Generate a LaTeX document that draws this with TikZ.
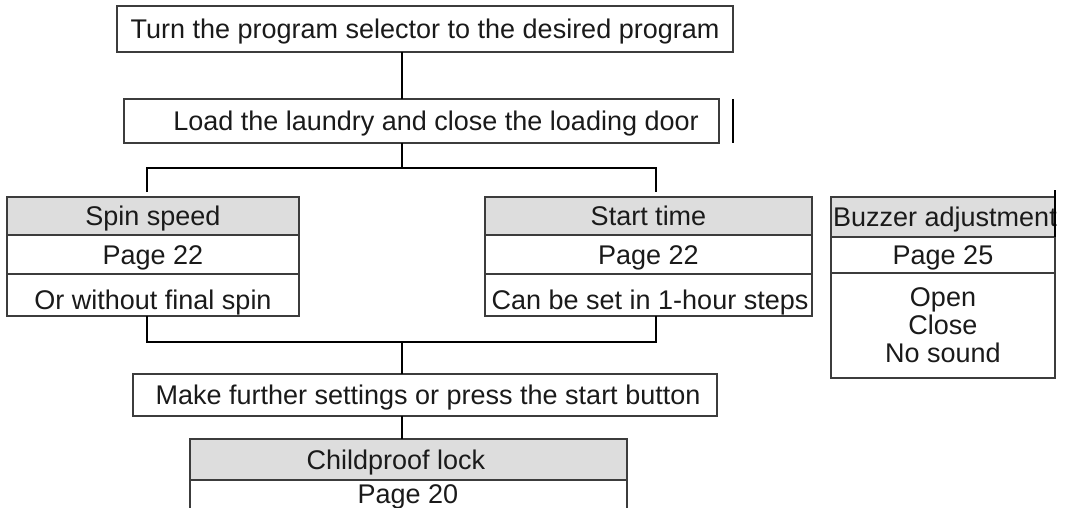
\documentclass[tikz,border=0pt]{standalone}
\usepackage{fontspec}
\setmainfont{Liberation Sans}
\definecolor{hdr}{RGB}{221,221,221}
\definecolor{txt}{RGB}{26,26,26}
\definecolor{brd}{RGB}{60,60,60}
\begin{document}
\begin{tikzpicture}[x=1pt,y=-1pt,
  cell/.style={draw=brd, line width=1.1pt, inner sep=0pt, outer sep=0pt},
  head/.style={cell, fill=hdr},
  lbl/.style={font=\fontsize{27}{30}\selectfont, text=txt, inner sep=0pt, anchor=base},
  conn/.style={line width=2pt, draw=black}]
\useasboundingbox (0,0) rectangle (1068,508);
\clip (0,0) rectangle (1068,508);
% top boxes
\node[cell, minimum width=616pt, minimum height=46pt] (b1) at (425,29) {};
\node[lbl] (t1) at (425,38.5) {Turn the program selector to the desired program};
\node[cell, minimum width=595pt, minimum height=44pt] (b2) at (421.5,121) {};
\node[lbl] (t2) at (436,131) {Load the laundry and close the loading door};
% spin speed
\node[head, minimum width=292pt, minimum height=38pt] (spinH) at (153,216) {};
\node[cell, minimum width=292pt, minimum height=39pt] (spinP) at (153,254.5) {};
\node[cell, minimum width=292pt, minimum height=42pt] (spinN) at (153,295) {};
\node[lbl] (ts1) at (153,225.5) {Spin speed};
\node[lbl] (ts2) at (153,264) {Page 22};
\node[lbl] (ts3) at (153,309) {Or without final spin};
% start time
\node[head, minimum width=327pt, minimum height=38pt] (stH) at (648.5,216) {};
\node[cell, minimum width=327pt, minimum height=39pt] (stP) at (648.5,254.5) {};
\node[cell, minimum width=327pt, minimum height=42pt] (stN) at (648.5,295) {};
\node[lbl] (tt1) at (648.5,225.5) {Start time};
\node[lbl] (tt2) at (648.5,264) {Page 22};
\node[lbl] (tt3) at (650,309) {Can be set in 1-hour steps};
% buzzer
\node[head, minimum width=224pt, minimum height=40pt] (bzH) at (943,217) {};
\node[cell, minimum width=224pt, minimum height=36pt] (bzP) at (943,255) {};
\node[cell, minimum width=224pt, minimum height=105pt] (bzN) at (943,325.5) {};
\node[lbl] (tb1) at (945,226.5) {Buzzer adjustment};
\node[lbl] (tb2) at (943,264.5) {Page 25};
\node[lbl] (tb3) at (943,306.5) {Open};
\node[lbl] (tb4) at (943,334.5) {Close};
\node[lbl] (tb5) at (943,362.5) {No sound};
% make further settings
\node[cell, minimum width=584pt, minimum height=42pt] (mk) at (425,395) {};
\node[lbl] (tm) at (428,404.7) {Make further settings or press the start button};
% childproof
\node[head, minimum width=437pt, minimum height=41pt] (chH) at (408.5,459.5) {};
\node[cell, minimum width=437pt, minimum height=52pt] (chP) at (408.5,506) {};
\node[lbl] (tc1) at (396,469) {Childproof lock};
\node[lbl] (tc2) at (408,503.5) {Page 20};
% connector coordinates
\coordinate (mx) at (402,0);
\coordinate (split) at (402,168);
\coordinate (sl) at (147,168);
\coordinate (sr) at (656,168);
\coordinate (slb) at (147,192);
\coordinate (srb) at (656,192);
\coordinate (join) at (402,342);
\coordinate (jl) at (147,342);
\coordinate (jr) at (656,342);
\coordinate (st1a) at (733,99);
\coordinate (st1b) at (733,143);
\coordinate (st2a) at (1055,190);
% connectors
\draw[conn] (b1.south -| mx) -- (b2.north -| mx);
\draw[conn] (b2.south -| mx) -- (split);
\draw[conn] (slb) -- (sl) -- (sr) -- (srb);
\draw[conn] (spinN.south -| jl) -- (jl) -- (jr) -- (stN.south -| jr);
\draw[conn] (join) -- (mk.north -| join);
\draw[conn] (mk.south -| mx) -- (chH.north -| mx);
% stray marks
\draw[conn] (st1a) -- (st1b);
\draw[line width=1.4pt, draw=black] (st2a) -- (bzH.south east);
\end{tikzpicture}
\end{document}
